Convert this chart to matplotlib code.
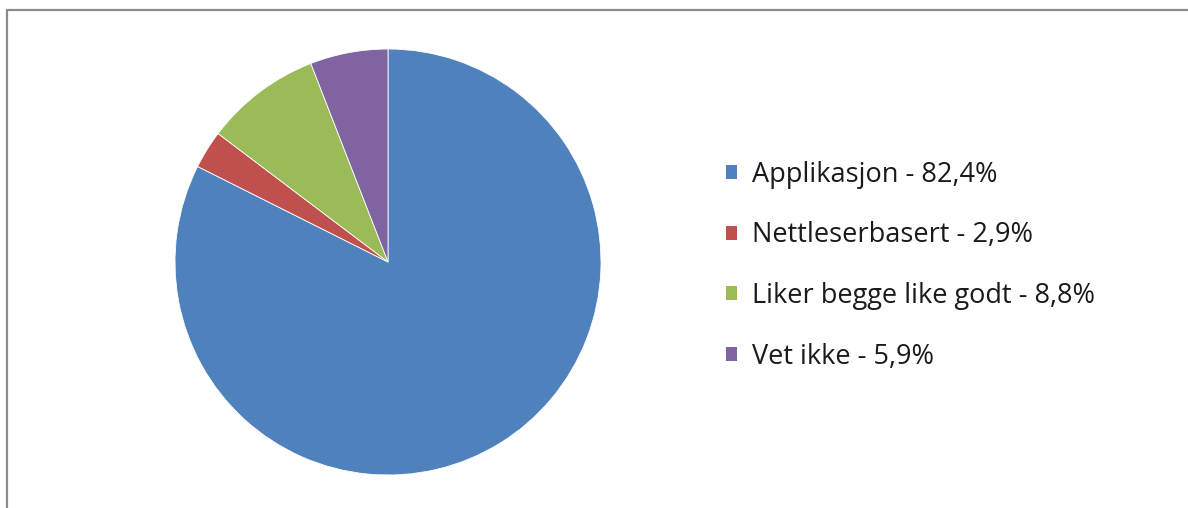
import matplotlib.pyplot as plt
from matplotlib.patches import Rectangle, Patch

labels = ['Applikasjon', 'Nettleserbasert', 'Liker begge like godt', 'Vet ikke']
values = [82.4, 2.9, 8.8, 5.9]
colors = ['#4F81BD', '#C0504D', '#9BBB59', '#8064A2']

W, H = 1188, 508
fig = plt.figure(figsize=(W / 100, H / 100), dpi=100)

# grey frame (right and bottom edges are cut off in the original)
fig.patches.append(Rectangle((7 / W, -0.05), 1.2, 1 - 10 / H + 0.05,
                             transform=fig.transFigure, fill=False,
                             edgecolor='#8c8c8c', linewidth=1.6))

# pie centred at (388, 262) px with radius ~213 px
cx, cy, r = 388, 262, 213
ax = fig.add_axes([(cx - r) / W, 1 - (cy + r) / H, 2 * r / W, 2 * r / H])
wedges, _ = ax.pie(values, colors=colors, startangle=90, counterclock=False,
                   wedgeprops=dict(edgecolor='white', linewidth=0.6))
ax.set_xlim(-1.0, 1.0)
ax.set_ylim(-1.0, 1.0)
ax.set_aspect('auto')

leg_labels = [f'{l} - {str(v).replace(".", ",")}%' for l, v in zip(labels, values)]
handles = [Patch(facecolor=c, edgecolor='none') for c in colors]
fig.legend(handles, leg_labels, loc='upper left',
           bbox_to_anchor=(726 / W, 1 - 161 / H), frameon=False,
           prop={'family': 'Open Sans', 'size': 19.5},
           handlelength=0.4, handleheight=0.4, handletextpad=0.55,
           labelspacing=1.2, borderaxespad=0, borderpad=0,
           labelcolor='#1a1a1a')

fig.savefig('out.png', dpi=100)
